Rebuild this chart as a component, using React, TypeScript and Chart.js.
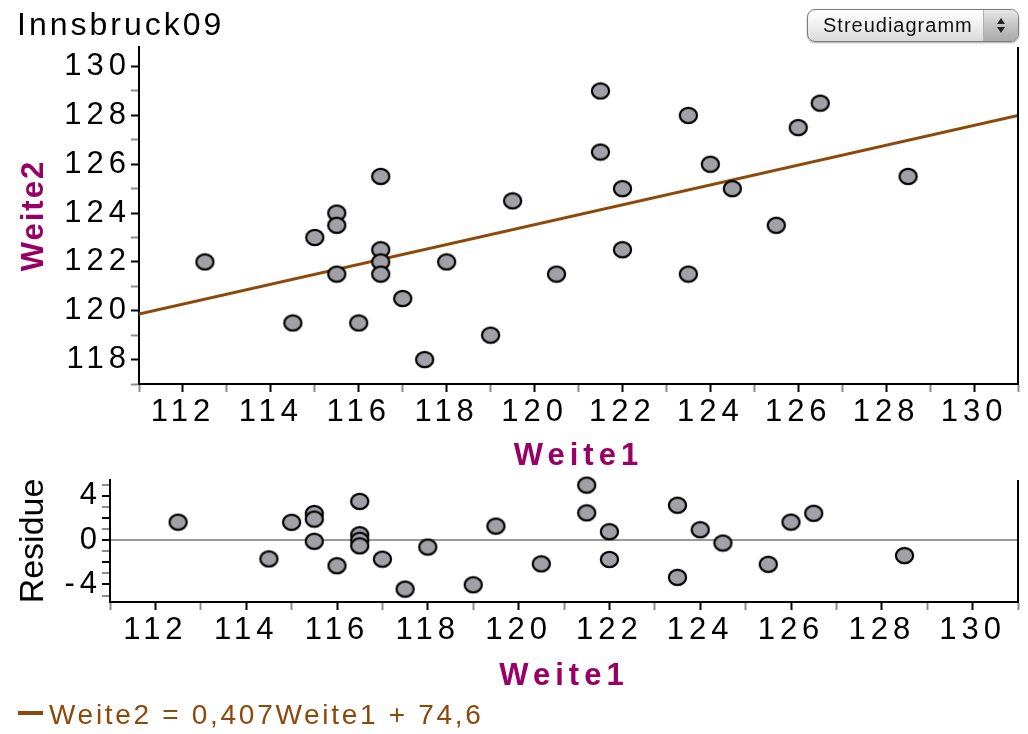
import React, { useEffect, useRef } from 'react';
import { Chart, registerables } from 'chart.js';

Chart.register(...registerables);

// ---------- data ----------
const weite1 = [112.5, 114.5, 115, 115.5, 115.5, 115.5, 116, 116.5, 116.5, 116.5, 116.5, 117, 117.5, 118, 119, 119.5, 120.5, 121.5, 121.5, 122, 122, 123.5, 123.5, 124, 124.5, 125.5, 126, 126.5, 128.5];
const weite2 = [122, 119.5, 123, 124, 123.5, 121.5, 119.5, 125.5, 122.5, 122, 121.5, 120.5, 118, 122, 119, 124.5, 121.5, 129, 126.5, 125, 122.5, 128, 121.5, 126, 125, 123.5, 127.5, 128.5, 125.5];
const residue = [1.61, -1.7, 1.6, 2.39, 1.89, -0.11, -2.31, 3.48, 0.48, -0.02, -0.52, -1.72, -4.42, -0.63, -4.03, 1.26, -2.14, 4.95, 2.45, 0.75, -1.75, 3.14, -3.36, 0.93, -0.27, -2.18, 1.62, 2.41, -1.4];
const lineX = [111, 131];
const lineY = [119.86, 128.0];
const xRange = [111, 131];
const yRangeTop = [117, 130.8];
const yRangeRes = [-5.58, 5.41];
const chartTitle = 'Innsbruck09';
const menuLabel = 'Streudiagramm';
const equationText = 'Weite2 = 0,407Weite1 + 74,6';
const xTitle = 'Weite1';
const yTitle = 'Weite2';
const resTitle = 'Residue';

const FONT = "'Liberation Sans', Arial, Helvetica, sans-serif";
const BROWN = '#8B4A0A';
const PURPLE = '#990066';

function makeDot() {
  const c = document.createElement('canvas');
  c.width = 21;
  c.height = 19;
  const g = c.getContext('2d')!;
  g.beginPath();
  g.ellipse(10.5, 9.5, 8.6, 7.6, 0, 0, Math.PI * 2);
  g.fillStyle = '#A0A0A6';
  g.fill();
  g.lineWidth = 2.2;
  g.strokeStyle = '#000';
  g.stroke();
  return c;
}

const spacingPlugin = {
  id: 'spacing',
  beforeUpdate(chart: any) { chart.ctx.letterSpacing = '5px'; },
  beforeLayout(chart: any) { chart.ctx.letterSpacing = '5px'; },
  beforeDraw(chart: any) { chart.ctx.letterSpacing = '5px'; },
};

const rightBorder = {
  id: 'rightBorder',
  afterDraw(chart: any) {
    const { ctx, chartArea: a } = chart;
    ctx.save();
    ctx.strokeStyle = '#000';
    ctx.lineWidth = 2;
    ctx.beginPath();
    ctx.moveTo(a.right, a.top);
    ctx.lineTo(a.right, a.bottom);
    ctx.stroke();
    ctx.restore();
  },
};

function sideTitle(text: string, font: string, color: string, spacing: string) {
  return {
    id: 'sideTitle',
    afterDraw(chart: any) {
      const { ctx, chartArea: a } = chart;
      ctx.save();
      ctx.letterSpacing = spacing;
      ctx.translate(34, (a.top + a.bottom) / 2);
      ctx.rotate(-Math.PI / 2);
      ctx.font = font;
      ctx.fillStyle = color;
      ctx.textAlign = 'center';
      ctx.textBaseline = 'middle';
      ctx.fillText(text, 0, 0);
      ctx.restore();
    },
  };
}

const tickColor = (c: any) => (c.tick && Math.round(c.tick.value) % 2 === 0 ? '#000' : '#8c8c8c');

function xScale(height: number, titleBottomPad: number) {
  return {
    type: 'linear',
    min: xRange[0],
    max: xRange[1],
    afterFit(s: any) { s.height = height; s.paddingLeft = 0; s.paddingRight = 0; },
    border: { display: true, color: '#000', width: 2 },
    grid: { drawOnChartArea: false, drawTicks: true, tickLength: 8, tickWidth: 2, tickColor },
    ticks: {
      stepSize: 1, includeBounds: false, autoSkip: false, maxRotation: 0, minRotation: 0, padding: 2,
      color: '#000', font: { family: FONT, size: 31, lineHeight: 1.2 },
      callback: (v: any) => (Math.round(Number(v)) % 2 === 0 ? String(Math.round(Number(v))) : ''),
    },
    title: {
      display: true, text: xTitle, color: PURPLE,
      font: { family: FONT, size: 31, weight: 'bold', lineHeight: 1.2 },
      padding: { top: 0, bottom: titleBottomPad },
    },
  };
}

export default function App() {
  const topRef = useRef<HTMLCanvasElement>(null);
  const botRef = useRef<HTMLCanvasElement>(null);

  useEffect(() => {
    const dot = makeDot();

    const top = new Chart(topRef.current!, {
      type: 'scatter',
      data: {
        datasets: [
          {
            type: 'scatter',
            data: weite1.map((x, i) => ({ x, y: weite2[i] })),
            pointStyle: dot as any,
            pointRadius: 9,
            clip: false,
            order: 1,
          } as any,
          {
            type: 'line',
            data: lineX.map((x, i) => ({ x, y: lineY[i] })),
            borderColor: BROWN,
            borderWidth: 3,
            pointRadius: 0,
            fill: false,
            tension: 0,
            order: 2,
          } as any,
        ],
      },
      options: {
        animation: false,
        responsive: false,
        devicePixelRatio: 1,
        layout: { padding: { top: 47, right: 4, left: 0, bottom: 0 } },
        plugins: { legend: { display: false }, tooltip: { enabled: false } },
        scales: {
          x: xScale(91, 0) as any,
          y: {
            type: 'linear',
            min: yRangeTop[0],
            max: yRangeTop[1],
            afterFit(s: any) { s.width = 139; s.paddingTop = 0; s.paddingBottom = 0; },
            border: { display: true, color: '#000', width: 2 },
            grid: { drawOnChartArea: false, drawTicks: true, tickLength: 8, tickWidth: 2, tickColor },
            ticks: {
              stepSize: 1, includeBounds: false, autoSkip: false, padding: 0,
              color: '#000', font: { family: FONT, size: 31, lineHeight: 1.2 },
              callback: (v: any) => (Math.round(Number(v)) % 2 === 0 ? String(Math.round(Number(v))) : ''),
            },
            title: { display: false },
          } as any,
        },
      },
      plugins: [spacingPlugin, rightBorder, sideTitle(yTitle, `bold 31px ${FONT}`, PURPLE, '2px')],
    });

    const bot = new Chart(botRef.current!, {
      type: 'scatter',
      data: {
        datasets: [
          {
            type: 'scatter',
            data: weite1.map((x, i) => ({ x, y: residue[i] })),
            pointStyle: dot as any,
            pointRadius: 9,
            clip: false,
          } as any,
        ],
      },
      options: {
        animation: false,
        responsive: false,
        devicePixelRatio: 1,
        layout: { padding: { top: 7, right: 9, left: 0, bottom: 0 } },
        plugins: { legend: { display: false }, tooltip: { enabled: false } },
        scales: {
          x: xScale(98, 5) as any,
          y: {
            type: 'linear',
            min: yRangeRes[0],
            max: yRangeRes[1],
            afterFit(s: any) { s.width = 110; s.paddingTop = 0; s.paddingBottom = 0; },
            border: { display: true, color: '#000', width: 2 },
            grid: {
              drawOnChartArea: true, drawTicks: true, tickLength: 8, tickWidth: 2, lineWidth: 2,
              color: (c: any) => (c.tick && Math.round(c.tick.value) === 0 ? '#9a9a9a' : 'rgba(0,0,0,0)'),
              tickColor,
            },
            ticks: {
              stepSize: 1, includeBounds: false, autoSkip: false, padding: 0,
              color: '#000', font: { family: FONT, size: 31, lineHeight: 0.4 },
              callback: (v: any) => (Math.round(Number(v)) % 4 === 0 ? String(Math.round(Number(v))) : ''),
            },
            title: { display: false },
          } as any,
        },
      },
      plugins: [spacingPlugin, rightBorder, sideTitle(resTitle, `34px ${FONT}`, '#000', '0px')],
    });

    return () => {
      top.destroy();
      bot.destroy();
    };
  }, []);

  return (
    <div style={{ position: 'absolute', left: 0, top: 0, width: 1028, height: 734, background: '#fff', overflow: 'hidden', fontFamily: FONT }}>
      <canvas ref={topRef} width={1028} height={475} style={{ position: 'absolute', left: 0, top: 0, width: 1028, height: 475 }} />
      <canvas ref={botRef} width={1028} height={230} style={{ position: 'absolute', left: 0, top: 470, width: 1028, height: 230 }} />
      <div style={{ position: 'absolute', left: 17, top: 8, fontSize: 32, lineHeight: '32px', letterSpacing: '3px', color: '#000', whiteSpace: 'nowrap' }}>
        {chartTitle}
      </div>
      <div
        style={{
          position: 'absolute', left: 807, top: 9, width: 212, height: 33, boxSizing: 'border-box',
          borderRadius: 8, border: '1px solid #7d7d7d', display: 'flex', overflow: 'hidden',
          boxShadow: '0 1px 2px rgba(0,0,0,0.35)',
          background: 'linear-gradient(#ffffff, #f1f1f1 45%, #d9d9d9 100%)',
        }}
      >
        <div style={{ flex: 1, display: 'flex', alignItems: 'center', paddingLeft: 15, fontSize: 20, letterSpacing: '1px', color: '#111', whiteSpace: 'nowrap' }}>
          {menuLabel}
        </div>
        <div
          style={{
            width: 34, borderLeft: '1px solid #b0b0b0', display: 'flex', flexDirection: 'column',
            alignItems: 'center', justifyContent: 'center', gap: 3,
            background: 'linear-gradient(#e8e8e8, #c4c4c4 50%, #a9a9a9 100%)',
          }}
        >
          <div style={{ width: 0, height: 0, borderLeft: '4px solid transparent', borderRight: '4px solid transparent', borderBottom: '6px solid #222' }} />
          <div style={{ width: 0, height: 0, borderLeft: '4px solid transparent', borderRight: '4px solid transparent', borderTop: '6px solid #222' }} />
        </div>
      </div>
      <div style={{ position: 'absolute', left: 18, top: 711, width: 25, height: 4, background: BROWN }} />
      <div style={{ position: 'absolute', left: 49, top: 701, fontSize: 28, lineHeight: '28px', letterSpacing: '2.7px', color: BROWN, whiteSpace: 'nowrap' }}>
        {equationText}
      </div>
    </div>
  );
}
